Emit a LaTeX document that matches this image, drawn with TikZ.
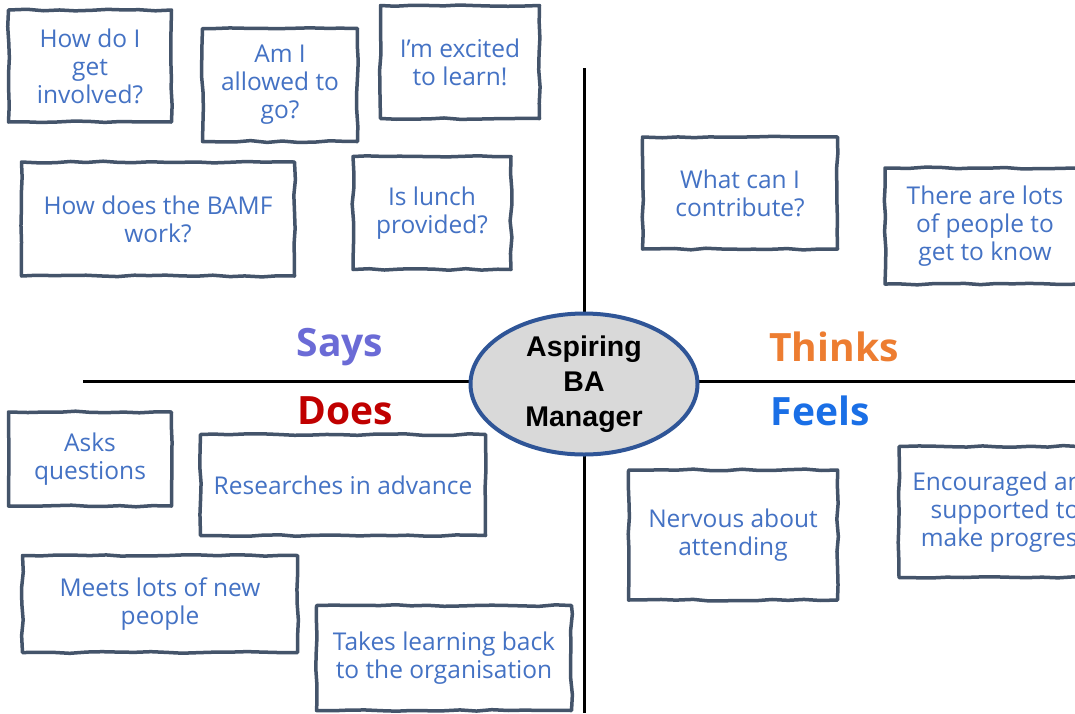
\documentclass[tikz,border=0pt]{standalone}
\usepackage{fontspec}
\setmainfont{Open Sans}
\newfontfamily\arialfont{Liberation Sans}
\usetikzlibrary{shapes.geometric,decorations.pathmorphing}
\definecolor{boxline}{HTML}{44546A}
\definecolor{boxtext}{HTML}{4472C4}
\definecolor{saycol}{HTML}{6B6BD6}
\definecolor{thinkcol}{HTML}{ED7D31}
\definecolor{doescol}{HTML}{C00000}
\definecolor{feelcol}{HTML}{1A6FE6}
\definecolor{hubline}{HTML}{2F5597}
\definecolor{hubfill}{HTML}{D9D9D9}
\tikzset{note/.style={draw=boxline, line width=3.5pt, text=boxtext, align=center, inner sep=0pt,
                      font=\fontsize{24.5}{28}\selectfont, line join=round,
                      decorate, decoration={random steps, segment length=16pt, amplitude=0.9pt}},
         quad/.style={font=\fontsize{39}{42}\selectfont\bfseries},
         axis/.style={black, line width=3pt}}
\pgfmathsetseed{7}

\begin{document}
\begin{tikzpicture}[x=1pt,y=-1pt]
   \clip (0,0) rectangle (1075,713);
   \fill[white] (0,0) rectangle (1075,713);
   % axes
   \coordinate (top) at (584, 68);
   \coordinate (bot) at (584,713);
   \coordinate (lft) at ( 83,381);
   \coordinate (rgt) at (1075,381);
   \draw[axis] (top) -- (bot);
   \draw[axis] (lft) -- (rgt);
   \node[ellipse, draw=hubline, line width=4pt, fill=hubfill, minimum width=227, minimum height=141,
         inner sep=0pt, align=center, font=\arialfont\fontsize{28.5}{35}\selectfont\bfseries]
        (hub) at (584,384) {Aspiring\\BA\\Manager};
   % quadrant titles
   \node[quad, text=saycol]   (says)   at (340,347) {Says};
   \node[quad, text=thinkcol] (thinks) at (834,347) {Thinks};
   \node[quad, text=doescol]  (does)   at (345,411) {Does};
   \node[quad, text=feelcol]  (feels)  at (820,411) {Feels};
   % says
   \node[note, minimum width=163, minimum height=112] (s1) at ( 90, 66) {How do I\\get\\involved?};
   \node[note, minimum width=155, minimum height=113] (s2) at (280, 85) {Am I\\allowed to\\go?};
   \node[note, minimum width=159, minimum height=113] (s3) at (460, 62) {I'm excited\\to learn!};
   \node[note, minimum width=273, minimum height=114] (s4) at (158,219) {How does the BAMF\\work?};
   \node[note, minimum width=158, minimum height=113] (s5) at (432,213) {Is lunch\\provided?};
   % thinks
   \node[note, minimum width=195, minimum height=112] (t1) at (740,193) {What can I\\contribute?};
   \node[note, minimum width=200, minimum height=116] (t2) at (985,226) {There are lots\\of people to\\get to know};
   % does
   \node[note, minimum width=163, minimum height=94]  (d1) at ( 90,459) {Asks\\questions};
   \node[note, minimum width=285, minimum height=101] (d2) at (343,485) {Researches in advance};
   \node[note, minimum width=275, minimum height=97]  (d3) at (160,604) {Meets lots of new\\people};
   \node[note, minimum width=255, minimum height=105] (d4) at (444,658) {Takes learning back\\to the organisation};
   % feels
   \node[note, minimum width=209, minimum height=130] (f1) at (733,535) {Nervous about\\attending};
   \node[note, minimum width=212, minimum height=131] (f2) at (1005,512) {Encouraged and\\supported to\\make progress};
\end{tikzpicture}
\end{document}
